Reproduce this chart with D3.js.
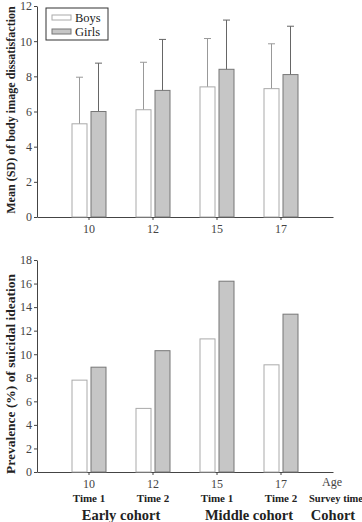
<!DOCTYPE html>
<html>
<head>
<meta charset="utf-8">
<script src="https://cdn.jsdelivr.net/npm/d3@7"></script>
<style>
  body { margin: 0; background: #fff; }
  svg text { font-family: "Liberation Serif", "Times New Roman", serif; fill: #222; }
</style>
</head>
<body>
<div id="container"></div>
<script>
const ages = ['10', '12', '15', '17'];
const surveyTimes = ['Time 1', 'Time 2', 'Time 1', 'Time 2'];
const cohorts = ['Early cohort', 'Middle cohort'];

// top: mean (SD) of body image dissatisfaction
const boysMean = [5.3, 6.1, 7.4, 7.3];
const girlsMean = [6.0, 7.2, 8.4, 8.1];
const boysUpper = [7.95, 8.8, 10.15, 9.85];
const girlsUpper = [8.75, 10.1, 11.2, 10.85];

// bottom: prevalence (%) of suicidal ideation
const boysPrev = [7.8, 5.4, 11.3, 9.1];
const girlsPrev = [8.9, 10.3, 16.2, 13.4];

const topTicks = [0, 2, 4, 6, 8, 10, 12];
const bottomTicks = [0, 2, 4, 6, 8, 10, 12, 14, 16, 18];

const serif = '"Liberation Serif", "Times New Roman", serif';

const svg = d3.select('#container').append('svg')
    .attr('width', 362)
    .attr('height', 522);

const x = d3.scaleBand().domain(ages).range([37, 333]).paddingOuter(0.3125).paddingInner(0);
const off = 9.5;
const bw = 15;

function panel(yRange, max, ticks, boys, girls, boysUp, girlsUp) {
    const y = d3.scaleLinear().domain([0, max]).range(yRange);
    const g = svg.append('g');

    g.append('g')
        .attr('transform', 'translate(37,0)')
        .attr('font-family', serif)
        .call(d3.axisLeft(y).tickValues(ticks).tickSize(3).tickPadding(2).tickSizeOuter(0))
        .call(a => a.select('.domain').attr('stroke', '#444'))
        .call(a => a.selectAll('.tick line').attr('stroke', '#444'))
        .call(a => a.selectAll('.tick text').attr('font-size', 12).style('fill', '#444'));

    g.append('g')
        .attr('transform', `translate(0,${yRange[0]})`)
        .attr('font-family', serif)
        .call(d3.axisBottom(x).tickSize(3).tickPadding(4).tickSizeOuter(0))
        .call(a => a.select('.domain').attr('stroke', '#444'))
        .call(a => a.selectAll('.tick line').attr('stroke', '#444'))
        .call(a => a.selectAll('.tick text').attr('font-size', 12).style('fill', '#444'));

    const cx = d => x(d) + x.bandwidth() / 2;

    if (boysUp) {
        [[boysUp, -off, '#999'], [girlsUp, off, '#666']].forEach(([up, o, c]) => {
            g.selectAll(null).data(ages).enter().append('line')
                .attr('x1', d => cx(d) + o).attr('x2', d => cx(d) + o)
                .attr('y1', (d, i) => y(up[i])).attr('y2', y(0))
                .attr('stroke', c).attr('stroke-width', 1);
            g.selectAll(null).data(ages).enter().append('line')
                .attr('x1', d => cx(d) + o - 3.5).attr('x2', d => cx(d) + o + 3.5)
                .attr('y1', (d, i) => y(up[i])).attr('y2', (d, i) => y(up[i]))
                .attr('stroke', c).attr('stroke-width', 1);
        });
    }

    g.selectAll(null).data(ages).enter().append('rect')
        .attr('x', d => cx(d) - off - bw / 2)
        .attr('y', (d, i) => y(boys[i]))
        .attr('width', bw)
        .attr('height', (d, i) => y(0) - y(boys[i]))
        .attr('fill', '#fff').attr('stroke', '#aaa');

    g.selectAll(null).data(ages).enter().append('rect')
        .attr('x', d => cx(d) + off - bw / 2)
        .attr('y', (d, i) => y(girls[i]))
        .attr('width', bw)
        .attr('height', (d, i) => y(0) - y(girls[i]))
        .attr('fill', '#c6c6c6').attr('stroke', '#777');
}

panel([217, 6], 12, topTicks, boysMean, girlsMean, boysUpper, girlsUpper);
panel([472, 260], 18, bottomTicks, boysPrev, girlsPrev, null, null);

// y-axis titles, font size fitted to the length they take in the reference
function yTitle(cy, len, label) {
    const t = svg.append('text')
        .attr('transform', `translate(15,${cy}) rotate(-90)`)
        .attr('text-anchor', 'middle')
        .attr('font-size', 14).attr('font-weight', 'bold')
        .text(label);
    const w = t.node().getComputedTextLength();
    t.attr('font-size', Math.min(14, 14 * len / w));
}
yTitle(110, 208, 'Mean (SD) of body image dissatisfaction');
yTitle(374, 200, 'Prevalence (%) of suicidal ideation');

// legend
const lg = svg.append('g');
lg.append('rect').attr('x', 46).attr('y', 8).attr('width', 62).attr('height', 32)
    .attr('fill', '#fff').attr('stroke', '#333');
lg.append('rect').attr('x', 52).attr('y', 15).attr('width', 19).attr('height', 5)
    .attr('fill', '#fff').attr('stroke', '#aaa');
lg.append('rect').attr('x', 52).attr('y', 29).attr('width', 19).attr('height', 5)
    .attr('fill', '#c6c6c6').attr('stroke', '#777');
lg.append('text').attr('x', 75).attr('y', 21.5).attr('font-size', 12.5).text('Boys');
lg.append('text').attr('x', 75).attr('y', 35.5).attr('font-size', 12.5).text('Girls');

// extra bottom labels
const cxs = d => x(d) + x.bandwidth() / 2;
svg.append('text').attr('x', 332).attr('y', 486).attr('text-anchor', 'middle')
    .attr('font-size', 12).style('fill', '#444').text('Age');

svg.selectAll(null).data(ages).enter().append('text')
    .attr('x', d => cxs(d)).attr('y', 502).attr('text-anchor', 'middle')
    .attr('font-size', 11).attr('font-weight', 'bold')
    .text((d, i) => surveyTimes[i]);
svg.append('text').attr('x', 336).attr('y', 502).attr('text-anchor', 'middle')
    .attr('font-size', 10.5).attr('font-weight', 'bold').text('Survey time');

svg.selectAll(null).data(cohorts).enter().append('text')
    .attr('x', (d, i) => (cxs(ages[i * 2]) + cxs(ages[i * 2 + 1])) / 2)
    .attr('y', 520).attr('text-anchor', 'middle')
    .attr('font-size', 14.5).attr('font-weight', 'bold')
    .text(d => d);
svg.append('text').attr('x', 333).attr('y', 520).attr('text-anchor', 'middle')
    .attr('font-size', 14.5).attr('font-weight', 'bold').text('Cohort');
</script>
</body>
</html>
